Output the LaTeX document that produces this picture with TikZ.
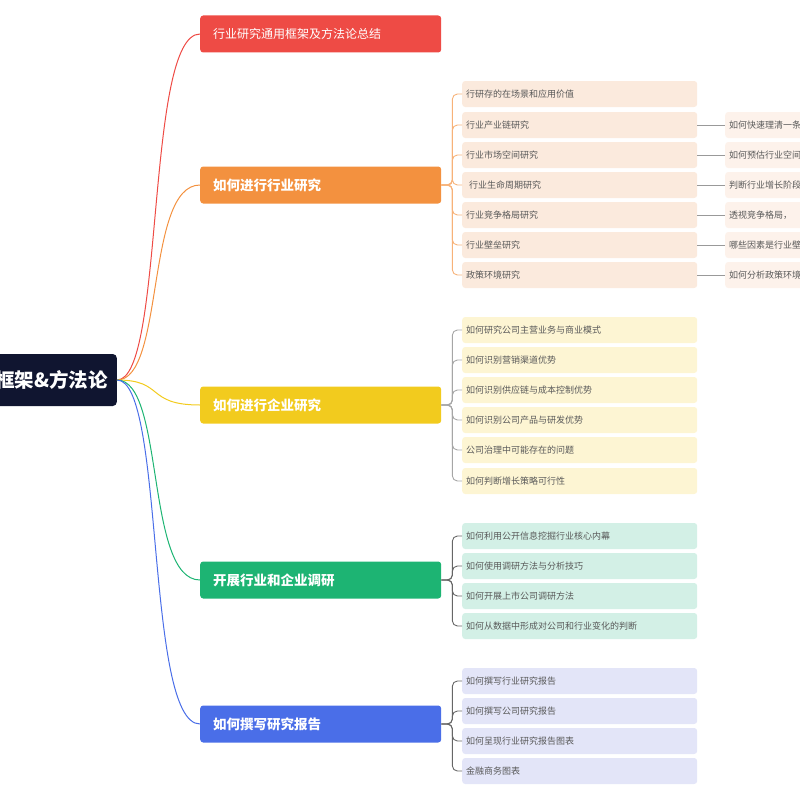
\documentclass[tikz,border=0pt]{standalone}
\usepackage{fontspec}
\setmainfont{Noto Sans CJK SC}
\begin{document}
\begin{tikzpicture}[x=1pt,y=-1pt,
 branch/.style={rounded corners=3pt,minimum height=37pt,text width=215pt,inner xsep=13pt,anchor=west,font=\fontsize{13.5}{15}\selectfont\bfseries,text=white},
 leaf/.style={rounded corners=3pt,minimum height=26pt,text width=227pt,inner xsep=4pt,anchor=west,font=\fontsize{9}{11}\selectfont,text=black!65},
 leafr/.style={leaf,text width=120pt},
 ln/.style={line width=0.9pt,rounded corners=5pt}]
\definecolor{cred}{HTML}{EE4B45}\definecolor{cor}{HTML}{F3913F}\definecolor{cye}{HTML}{F2CB1E}
\definecolor{cgr}{HTML}{1DB473}\definecolor{cbl}{HTML}{4A6EE8}\definecolor{cnavy}{HTML}{101530}
\definecolor{lor}{HTML}{FBEADD}\definecolor{lye}{HTML}{FDF5D3}\definecolor{lgr}{HTML}{D3F0E6}\definecolor{lbl}{HTML}{E3E5F8}
\useasboundingbox (0,0) rectangle (800,800);
\clip (0,0) rectangle (800,800);
\node[fill=cnavy, rounded corners=4pt, minimum height=52pt, anchor=east, text=white, font=\fontsize{19.5}{21}\selectfont\bfseries, inner xsep=9pt] (root) at (117,380) {行业研究通用框架\&方法论};
\node[branch,fill=cred,font=\fontsize{12}{14}\selectfont] (b1) at (200,34) {行业研究通用框架及方法论总结};
\node[branch,fill=cor] (b2) at (200,185) {如何进行行业研究};
\node[branch,fill=cye] (b3) at (200,405) {如何进行企业研究};
\node[branch,fill=cgr] (b4) at (200,580) {开展行业和企业调研};
\node[branch,fill=cbl] (b5) at (200,724) {如何撰写研究报告};
\foreach \b/\c in {b1/cred,b2/cor,b3/cye,b4/cgr,b5/cbl}
  \draw[\c,line width=1pt] (root.east) .. controls (165,380) and (145,0|-\b.west) .. (\b.west);
\foreach \i/\y/\t in {1/94/行研存的在场景和应用价值,2/125/行业产业链研究,3/155/行业市场空间研究,4/185/\ 行业生命周期研究,5/215/行业竞争格局研究,6/245/行业壁垒研究,7/275/政策环境研究}{
  \node[leaf,fill=lor] (o\i) at (462,\y) {\t};
  \draw[ln,cor!70] (b2.east) -- ++(11,0) |- (o\i.west);}
\foreach \i/\y/\t in {2/125/如何快速理清一条产业链,3/155/如何预估行业空间,4/185/判断行业增长阶段,5/215/透视竞争格局，,6/245/哪些因素是行业壁垒,7/275/如何分析政策环境}{
  \node[leafr,fill=lor!60] (r\i) at (725,\y) {\t};
  \draw[ln,black!40] (o\i.east) -- (r\i.west);}
\foreach \i/\y/\t in {1/330/如何研究公司主营业务与商业模式,2/360/如何识别营销渠道优势,3/390/如何识别供应链与成本控制优势,4/420/如何识别公司产品与研发优势,5/450/公司治理中可能存在的问题,6/481/如何判断增长策略可行性}{
  \node[leaf,fill=lye] (y\i) at (462,\y) {\t};
  \draw[ln,black!35] (b3.east) -- ++(11,0) |- (y\i.west);}
\foreach \i/\y/\t in {1/536/如何利用公开信息挖掘行业核心内幕,2/566/如何使用调研方法与分析技巧,3/596/如何开展上市公司调研方法,4/626/如何从数据中形成对公司和行业变化的判断}{
  \node[leaf,fill=lgr] (g\i) at (462,\y) {\t};
  \draw[ln,black!60] (b4.east) -- ++(11,0) |- (g\i.west);}
\foreach \i/\y/\t in {1/681/如何撰写行业研究报告,2/711/如何撰写公司研究报告,3/741/如何呈现行业研究报告图表,4/771/金融商务图表}{
  \node[leaf,fill=lbl] (u\i) at (462,\y) {\t};
  \draw[ln,black!60] (b5.east) -- ++(11,0) |- (u\i.west);}
\end{tikzpicture}
\end{document}
